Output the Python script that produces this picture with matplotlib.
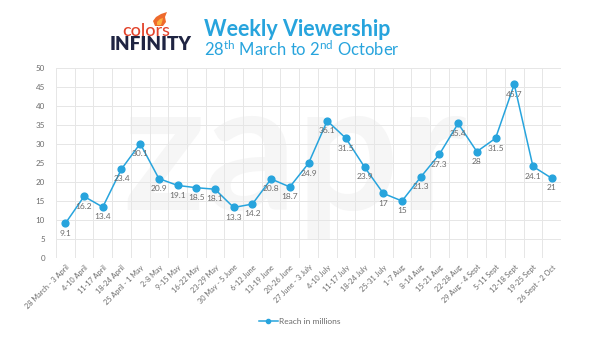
import matplotlib
matplotlib.use("Agg")
import matplotlib.pyplot as plt
from matplotlib.lines import Line2D
from matplotlib.patches import Polygon

plt.rcParams['font.family'] = ['Lato', 'DejaVu Sans']
plt.rcParams['mathtext.default'] = 'regular'

weeks = ["28 March - 3 April", "4-10 April", "11-17 April", "18-24 April",
         "25 April - 1 May", "2-8 May", "9-15 May", "16-22 May", "23-29 May",
         "30 May - 5 June", "6-12 June", "13-19 June", "20-26 June",
         "27 June - 3 July", "4-10 July", "11-17 July", "18-24 July",
         "25-31 July", "1-7 Aug", "8-14 Aug", "15-21 Aug", "22-28 Aug",
         "29 Aug - 4 Sept", "5-11 Sept", "12-18 Sept", "19-25 Sept",
         "26 Sept - 2 Oct"]
reach = [9.1, 16.2, 13.4, 23.4, 30.1, 20.9, 19.1, 18.5, 18.1, 13.3, 14.2,
         20.8, 18.7, 24.9, 36.1, 31.5, 23.9, 17, 15, 21.3, 27.3, 35.4, 28,
         31.5, 45.7, 24.1, 21]
y_ticks = [0, 5, 10, 15, 20, 25, 30, 35, 40, 45, 50]

blue = '#27a4dd'
grey_txt = '#6b6b6b'

fig = plt.figure(figsize=(6, 3.37), dpi=100)
ax = fig.add_axes([56/600, 1-258/337, (561-56)/600, (258-68)/337])
ax.set_facecolor('none')

x = list(range(len(weeks)))

# faint background watermark, kept beneath the grid
ax.text(0.49, 0.53, "zapr", fontsize=130, fontweight='bold', color='#f6f6f6',
        ha='center', va='center', transform=fig.transFigure, zorder=0.1)

ax.plot(x, reach, color=blue, lw=1.1, marker='o', ms=4.9, mfc=blue, mec=blue,
        zorder=3, clip_on=False)
for xi, v in zip(x, reach):
    ax.annotate(f"{v:g}", (xi, v), xytext=(0, -4.5), textcoords='offset points',
                ha='center', va='top', fontsize=6, color=grey_txt, zorder=4)

ax.set_xlim(-0.5, len(weeks) - 0.5)
ax.set_ylim(0, 50)
ax.set_yticks(y_ticks)
ax.set_xticks(x)
ax.set_xticklabels(weeks, rotation=45, ha='right', rotation_mode='anchor',
                   fontsize=5.3, color=grey_txt)
ax.tick_params(axis='y', labelsize=5.8, labelcolor=grey_txt, length=0, pad=8)
ax.tick_params(axis='x', length=0, pad=4)
ax.set_xticks([i - 0.5 for i in range(len(weeks) + 1)], minor=True)
ax.grid(False)
ax.grid(True, which='minor', axis='x', color='#e6e6e6', lw=0.7)
ax.grid(True, which='major', axis='y', color='#e6e6e6', lw=0.7)
ax.tick_params(which='minor', length=0)
for s in ax.spines.values():
    s.set_visible(False)
ax.set_axisbelow(True)

handle = Line2D([], [], color=blue, lw=1.1, marker='o', ms=3)
fig.legend([handle], ["Reach in millions"], loc='center',
           bbox_to_anchor=(0.5, 1-321/337), frameon=False, fontsize=6,
           labelcolor=grey_txt, handlelength=2.2, handletextpad=0.2)

# header: logo wordmark and titles
fig.text(146/600, 1-31/337, "colors", fontsize=13, color='#e2432b',
         ha='center', va='center', fontweight='medium')
fig.text(151/600, 1-44/337, "INFINITY", fontsize=13.5, color='#1f2442',
         ha='center', va='center', fontweight='heavy')


def fig_px(pts):
    return [(px / 600, 1 - py / 337) for px, py in pts]


flame_outer = fig_px([(155, 26), (153, 21), (156, 17), (161, 14), (167, 12),
                      (165, 17), (166, 22), (163, 26)])
flame_inner = fig_px([(157, 25), (157, 22), (160, 19), (163, 18), (162, 22),
                      (161, 25)])
fig.patches.append(Polygon(flame_outer, closed=True, transform=fig.transFigure,
                           facecolor='#ee6a2c', edgecolor='none'))
fig.patches.append(Polygon(flame_inner, closed=True, transform=fig.transFigure,
                           facecolor='#fbb040', edgecolor='none'))

fig.text(204/600, 1-30/337, "Weekly Viewership", fontsize=15.5, color=blue,
         ha='left', va='center', fontweight='bold')
fig.text(204/600, 1-49/337, "28$^{th}$ March to 2$^{nd}$ October", fontsize=12,
         color=blue, ha='left', va='center')

fig.savefig("out.png", dpi=100)
